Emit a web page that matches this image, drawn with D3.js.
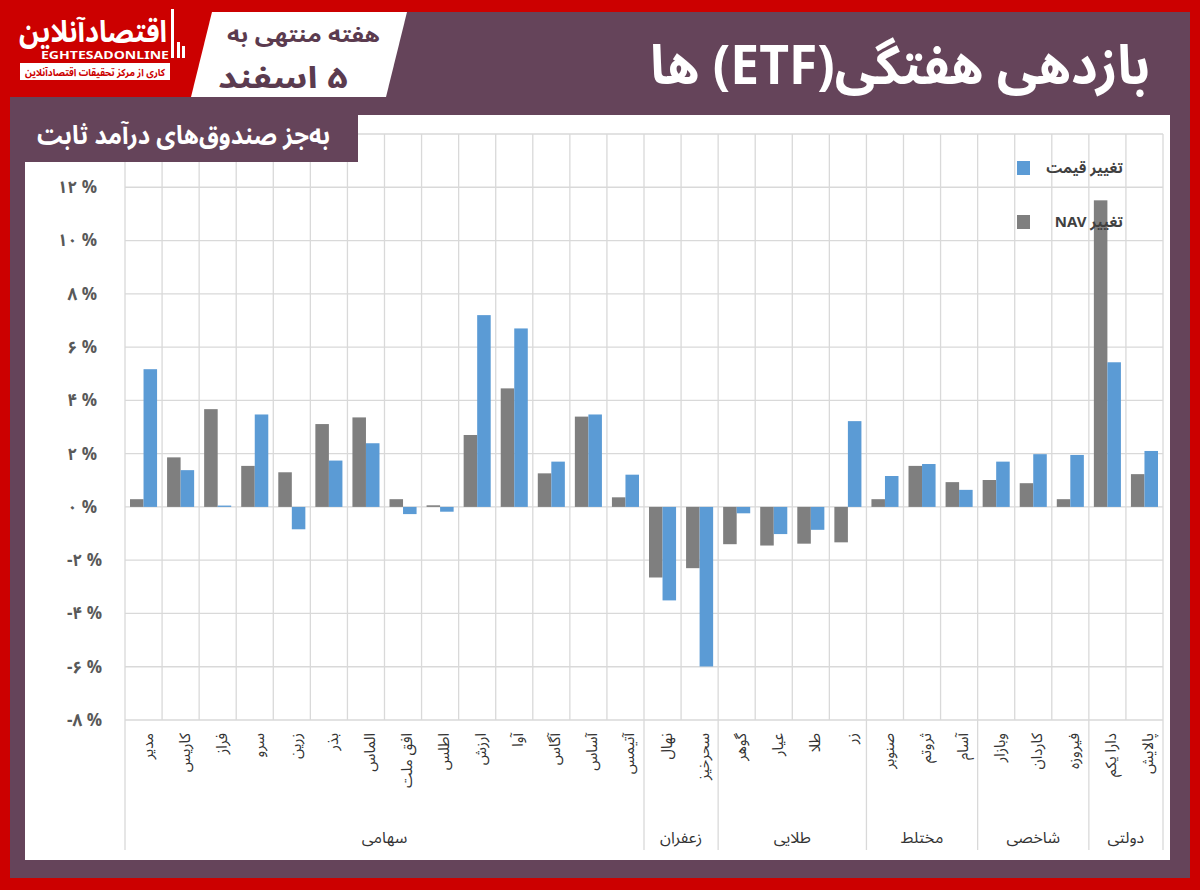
<!DOCTYPE html>
<html>
<head>
<meta charset="utf-8">
<script src="https://cdn.jsdelivr.net/npm/d3@7"></script>
<style>
  html, body { margin: 0; padding: 0; background: #cc0000; }
  svg { display: block; }
  text { font-family: "Noto Sans Arabic", "DejaVu Sans", sans-serif; }
</style>
</head>
<body>
<svg id="chart" width="1200" height="890"></svg>
<script>
// ---------- data ----------
const categories = ["مدیر","کاریس","فراز","سرو","زرین","بذر","الماس","افق ملت","اطلس","ارزش","آوا","آگاس","آساس","آتیمس",
                    "نهال","سحرخیز",
                    "گوهر","عیار","طلا","زر",
                    "صنوبر","ثروتم","آسام",
                    "وبازار","کاردان","فیروزه",
                    "دارا یکم","پالایش"];
const groupNames = ["سهامی","زعفران","طلایی","مختلط","شاخصی","دولتی"];
const groupSizes = [14, 2, 4, 3, 3, 2];
const navChange   = [0.29,1.86,3.67,1.54,1.30,3.11,3.36,0.29,0.06,2.70,4.45,1.26,3.39,0.36,
                     -2.65,-2.30,-1.40,-1.45,-1.38,-1.33,0.29,1.54,0.93,1.01,0.89,0.29,11.51,1.23];
const priceChange = [5.17,1.38,0.05,3.47,-0.84,1.74,2.39,-0.27,-0.18,7.20,6.70,1.70,3.47,1.21,
                     -3.51,-5.99,-0.24,-1.02,-0.86,3.22,1.16,1.61,0.64,1.70,1.98,1.95,5.43,2.10];
const seriesKeys  = ["nav","price"];
const seriesNames = ["تغییر NAV","تغییر قیمت"];
const yTicks = [-8,-6,-4,-2,0,2,4,6,8,10,12,14];

const titleText = "بازدهی هفتگی(ETF) ها";
const weekLine1 = "هفته منتهی به";
const weekLine2 = "۵ اسفند";
const boxText = "به‌جز صندوق‌های درآمد ثابت";

// ---------- style ----------
const RED = "#cc0000", PURPLE = "#65445a", DATE_COL = "#5b3b4f";
const GRAY = "#7f7f7f", BLUE = "#5b9bd5", GRID = "#d9d9d9";
const colors = {nav: GRAY, price: BLUE};

const svg = d3.select("#chart");
const toFa = s => String(s).replace(/\d/g, d => "۰۱۲۳۴۵۶۷۸۹"[d]);
const fmt = d => (d < 0 ? "-" : "") + toFa(Math.abs(d)) + " %";

// ---------- frame ----------
svg.append("rect").attr("width",1200).attr("height",890).attr("fill",RED);
svg.append("rect").attr("x",380).attr("y",12).attr("width",810).attr("height",103).attr("fill",PURPLE);
svg.append("rect").attr("x",10).attr("y",97).attr("width",1180).attr("height",781).attr("fill",PURPLE);
svg.append("rect").attr("x",25).attr("y",115).attr("width",1145).attr("height",745).attr("fill","#ffffff");

// date parallelogram
svg.append("polygon").attr("points","212,12 407,12 386,97 191,97").attr("fill","#ffffff");
svg.append("text").attr("x",380).attr("y",42).attr("direction","rtl").attr("text-anchor","start")
  .attr("font-size",21).attr("font-weight","bold").attr("fill",DATE_COL)
  .attr("textLength",153).attr("lengthAdjust","spacingAndGlyphs").text(weekLine1);
svg.append("text").attr("x",348).attr("y",88).attr("direction","rtl").attr("text-anchor","start")
  .attr("font-size",30).attr("font-weight","bold").attr("fill",DATE_COL)
  .attr("textLength",130).attr("lengthAdjust","spacingAndGlyphs").text(weekLine2);

// title
svg.append("text").attr("x",1150).attr("y",84).attr("direction","rtl").attr("text-anchor","start")
  .attr("font-size",54).attr("font-weight","bold").attr("fill","#ffffff")
  .attr("textLength",500).attr("lengthAdjust","spacingAndGlyphs").text(titleText);

// logo
const logo = svg.append("g");
logo.append("text").attr("x",93).attr("y",42).attr("text-anchor","middle")
  .attr("font-size",30).attr("font-weight","bold").attr("fill","#ffffff")
  .attr("textLength",148).attr("lengthAdjust","spacingAndGlyphs").text("اقتصادآنلاین");
logo.append("text").attr("x",105).attr("y",59).attr("text-anchor","middle")
  .attr("font-size",10).attr("font-weight","bold").attr("fill","#ffffff")
  .attr("textLength",128).attr("lengthAdjust","spacingAndGlyphs").text("EGHTESADONLINE");
logo.append("rect").attr("x",20).attr("y",63).attr("width",150).attr("height",17).attr("fill","#ffffff");
logo.append("text").attr("x",95).attr("y",75.5).attr("text-anchor","middle")
  .attr("font-size",10).attr("font-weight","bold").attr("fill",RED)
  .attr("textLength",140).attr("lengthAdjust","spacingAndGlyphs").text("کاری از مرکز تحقیقات اقتصادآنلاین");
logo.append("rect").attr("x",171).attr("y",9).attr("width",3).attr("height",49).attr("fill","#ffffff");
logo.append("rect").attr("x",177).attr("y",42).attr("width",3).attr("height",16).attr("fill","#ffffff");
logo.append("rect").attr("x",182).attr("y",46).attr("width",3).attr("height",12).attr("fill","#ffffff");

// ---------- scales ----------
const x = d3.scaleBand().domain(categories).range([125,1163]).padding(0);
const xs = d3.scaleBand().domain(seriesKeys).range([0, x.bandwidth()]).paddingInner(0).paddingOuter(0.37);
const y = d3.scaleLinear().domain([-8,14]).range([720,134]);

// ---------- grid ----------
const grid = svg.append("g");
grid.selectAll(".hg").data(yTicks).join("line")
  .attr("x1",125).attr("x2",1163).attr("y1",d=>y(d)).attr("y2",d=>y(d))
  .attr("stroke",GRID).attr("stroke-width",1.3);
const boundaries = categories.map(c => x(c)).concat([x.range()[1]]);
grid.selectAll(".vg").data(boundaries).join("line")
  .attr("x1",d=>d).attr("x2",d=>d).attr("y1",y(14)).attr("y2",y(-8))
  .attr("stroke",GRID).attr("stroke-width",1.3);

// group separators & labels
let starts = [], acc = 0;
groupSizes.forEach(n => { starts.push(acc); acc += n; });
const sepX = starts.map(s => x(categories[s])).concat([x.range()[1]]);
grid.selectAll(".sep").data(sepX).join("line")
  .attr("x1",d=>d).attr("x2",d=>d).attr("y1",y(-8)).attr("y2",850)
  .attr("stroke",GRID).attr("stroke-width",1.3);
svg.append("g").selectAll("text").data(groupNames).join("text")
  .attr("x",(d,i)=> (sepX[i]+sepX[i+1])/2).attr("y",843)
  .attr("text-anchor","middle").attr("direction","rtl")
  .attr("font-size",16).attr("fill","#333333").text(d=>d);

// ---------- bars ----------
const rows = categories.map((c,i)=>({cat:c, nav:navChange[i], price:priceChange[i]}));
svg.append("g").selectAll("g").data(rows).join("g")
  .attr("transform", d => `translate(${x(d.cat)},0)`)
  .selectAll("rect").data(d => seriesKeys.map(k => ({key:k, v:d[k]}))).join("rect")
  .attr("x", d => xs(d.key)).attr("width", xs.bandwidth())
  .attr("y", d => y(Math.max(0,d.v)))
  .attr("height", d => Math.abs(y(d.v) - y(0)))
  .attr("fill", d => colors[d.key]);

// ---------- y axis ----------
const yAxis = svg.append("g").attr("transform","translate(97,0)")
  .call(d3.axisLeft(y).tickValues(yTicks.filter(t=>t<14)).tickSize(0).tickPadding(0).tickFormat(fmt));
yAxis.select(".domain").remove();
yAxis.selectAll("text")
  .attr("direction","ltr")
  .attr("dx", d => d < 0 ? 5 : 0)
  .attr("font-family","\"Noto Sans Arabic\", \"DejaVu Sans\", sans-serif")
  .attr("font-size",17).attr("font-weight","bold").attr("fill","#595959");

// ---------- x axis (category labels) ----------
const xAxis = svg.append("g").attr("transform","translate(0,733)")
  .call(d3.axisBottom(x).tickSize(0).tickPadding(0));
xAxis.select(".domain").remove();
xAxis.selectAll("text")
  .attr("y",0).attr("dy",0)
  .attr("direction","rtl")
  .attr("text-anchor","start")
  .attr("dominant-baseline","central")
  .attr("transform","translate(4,0) rotate(-90)")
  .attr("font-family","\"Noto Sans Arabic\", \"DejaVu Sans\", sans-serif")
  .attr("font-size",15).attr("fill","#333333");

// ---------- legend ----------
const legendY = {price: 168, nav: 222};
const legend = svg.append("g");
["price","nav"].forEach(k => {
  const name = seriesNames[seriesKeys.indexOf(k)];
  legend.append("rect").attr("x",1017).attr("y",legendY[k]-7).attr("width",13).attr("height",14).attr("fill",colors[k]);
  legend.append("text").attr("x",1123).attr("y",legendY[k]).attr("direction","rtl").attr("text-anchor","start")
    .attr("dominant-baseline","central").attr("font-size",15).attr("font-weight","bold").attr("fill","#404040").text(name);
});

// ---------- overlay label box ----------
svg.append("rect").attr("x",10).attr("y",97).attr("width",348).attr("height",65).attr("fill",PURPLE);
svg.append("text").attr("x",330).attr("y",144).attr("direction","rtl").attr("text-anchor","start")
  .attr("font-size",26).attr("font-weight","bold").attr("fill","#ffffff")
  .attr("textLength",293).attr("lengthAdjust","spacingAndGlyphs").text(boxText);
</script>
</body>
</html>
